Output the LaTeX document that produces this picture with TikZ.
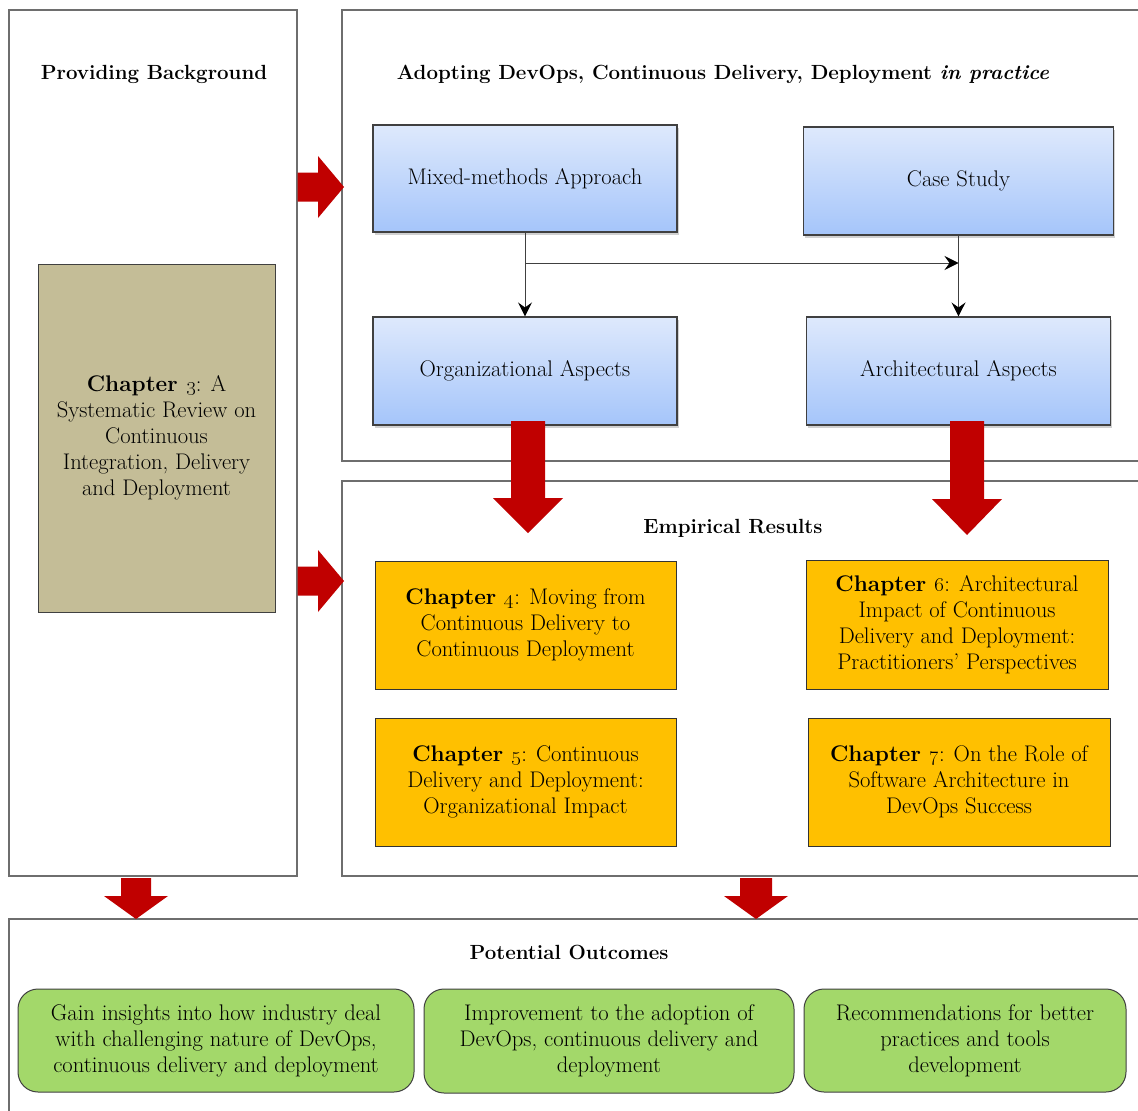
\documentclass[tikz,border=0pt]{standalone}
\usetikzlibrary{calc,arrows.meta,shadows}

\definecolor{arrowred}{HTML}{C00000}
\definecolor{chorange}{HTML}{FFC000}
\definecolor{tanfill}{HTML}{C4BD97}
\definecolor{outgreen}{RGB}{163,216,106}
\definecolor{bluetop}{RGB}{222,233,252}
\definecolor{bluebot}{RGB}{165,197,250}
\definecolor{framegray}{RGB}{110,110,110}
\definecolor{edgegray}{RGB}{64,64,64}

% filled block arrow: start, end, shaft half-width, head half-width, head length
\newcommand\blockarrow[5]{%
  \coordinate (ba-h) at ($(#2)!#5!(#1)$);
  \fill[arrowred] ($(#1)!#3!90:(#2)$) -- ($(ba-h)!#3!-90:(#1)$) -- ($(ba-h)!#4!-90:(#1)$)
    -- (#2) -- ($(ba-h)!#4!90:(#1)$) -- ($(ba-h)!#3!90:(#1)$) -- ($(#1)!#3!-90:(#2)$) -- cycle;}

\begin{document}
\begin{tikzpicture}[x=1pt,y=-1pt,
  font=\fontsize{22.6}{26}\selectfont,
  size/.style 2 args={minimum width=#1pt,minimum height=#2pt,inner sep=0pt},
  frame/.style={draw=framegray,line width=1.4pt},
  title/.style={font=\fontsize{20.5}{26}\selectfont\bfseries},
  bluebox/.style={draw=edgegray,line width=1.1pt,top color=bluetop,bottom color=bluebot,
    drop shadow={shadow xshift=1.5pt,shadow yshift=-2.5pt,opacity=0.18,fill=black}},
  chapbox/.style={draw=black!80,line width=1pt,fill=chorange,align=center},
  tanbox/.style={draw=edgegray,line width=1pt,fill=tanfill,align=center},
  outbox/.style={draw=edgegray,line width=1pt,fill=outgreen,rounded corners=20pt,align=center},
  conn/.style={draw=edgegray,line width=0.9pt},
  tip/.style={-{Stealth[length=14pt,width=14pt,inset=5pt,fill=black,color=black]}}]

\fill[white] (0,0) rectangle (1138,1111);
\useasboundingbox (0,0) rectangle (1138,1111);

% outer panels
\node[frame,size={288}{866}] (bgbox) at (153,443) {};
\node[frame,size={808}{451}] (practice) at (746,235.5) {};
\node[frame,size={808}{395}] (empirical) at (746,678.5) {};
\node[frame,size={1141}{201}] (outcomes) at (579.5,1019.5) {};

% panel titles
\node[title] (t-bg) at (154,74) {Providing Background};
\node[title] (t-pr) at (723,74) {Adopting DevOps, Continuous Delivery, Deployment \textit{in practice}};
\node[title] (t-em) at (733,528) {Empirical Results};
\node[title] (t-out) at (569,952) {Potential Outcomes};

% research approach
\node[bluebox,size={304}{107}] (mixed) at (525,178.5) {Mixed-methods Approach};
\node[bluebox,size={310}{108}] (case) at (958.5,181) {Case Study};
\node[bluebox,size={304}{108}] (org) at (525,371) {Organizational Aspects};
\node[bluebox,size={304}{108}] (arch) at (958.5,371) {Architectural Aspects};

\coordinate (split) at (525,263);
\coordinate (join) at (958.5,263);
\draw[conn,tip] (mixed.south) -- (org.north);
\draw[conn,tip] (split) -- (join);
\draw[conn,tip] (case.south) -- (arch.north);

% background chapter
\node[tanbox,size={237}{348}] (ch3) at (156.5,438)
  {\textbf{Chapter \oldstylenums{3}}: A\\Systematic Review on\\Continuous\\Integration, Delivery\\and Deployment};

% empirical chapters
\node[chapbox,size={301}{128}] (ch4) at (525.5,625)
  {\textbf{Chapter \oldstylenums{4}}: Moving from\\Continuous Delivery to\\Continuous Deployment};
\node[chapbox,size={302}{129}] (ch6) at (957,624.5)
  {\textbf{Chapter \oldstylenums{6}}: Architectural\\Impact of Continuous\\Delivery and Deployment:\\Practitioners' Perspectives};
\node[chapbox,size={301}{128}] (ch5) at (525.5,782)
  {\textbf{Chapter \oldstylenums{5}}: Continuous\\Delivery and Deployment:\\Organizational Impact};
\node[chapbox,size={302}{128}] (ch7) at (959,782)
  {\textbf{Chapter \oldstylenums{7}}: On the Role of\\Software Architecture in\\DevOps Success};

% outcomes
\node[outbox,size={396}{103}] (g1) at (216,1040.5)
  {Gain insights into how industry deal\\with challenging nature of DevOps,\\continuous delivery and deployment};
\node[outbox,size={370}{104}] (g2) at (609,1041)
  {Improvement to the adoption of\\DevOps, continuous delivery and\\deployment};
\node[outbox,size={322}{103}] (g3) at (965,1040.5)
  {Recommendations for better\\practices and tools\\development};

% flow arrows between panels
\coordinate (r1s) at (bgbox.east |- 0,187);
\coordinate (r1e) at (344,187);
\coordinate (r2s) at (bgbox.east |- 0,581);
\coordinate (r2e) at (344,581);
\coordinate (d1s) at (528,421);
\coordinate (d1e) at (528,533);
\coordinate (d2s) at (967,421);
\coordinate (d2e) at (967,535);
\coordinate (d3s) at (136,878);
\coordinate (d3e) at (136,919);
\coordinate (d4s) at (756,878);
\coordinate (d4e) at (756,919);

\blockarrow{r1s}{r1e}{14.5pt}{31pt}{26pt}
\blockarrow{r2s}{r2e}{14.5pt}{31pt}{26pt}
\blockarrow{d1s}{d1e}{17pt}{35pt}{35pt}
\blockarrow{d2s}{d2e}{17pt}{35pt}{36pt}
\blockarrow{d3s}{d3e}{15pt}{32pt}{23pt}
\blockarrow{d4s}{d4e}{16pt}{32pt}{23pt}

\end{tikzpicture}
\end{document}
